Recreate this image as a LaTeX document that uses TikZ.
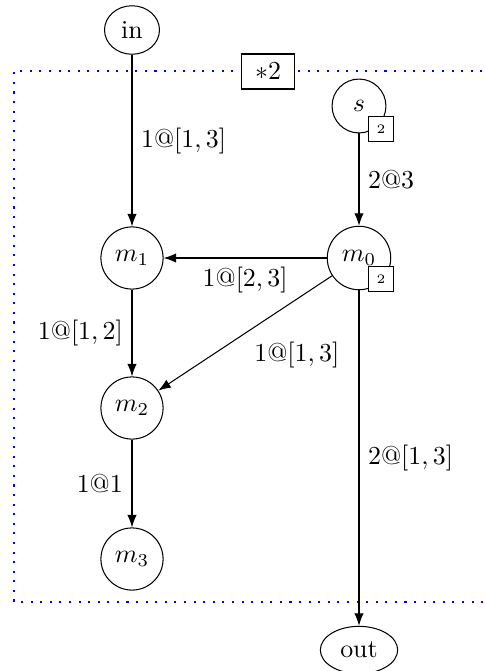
\documentclass[tikz,border=0pt]{standalone}
\usetikzlibrary{arrows.meta,shapes.geometric}
\begin{document}
\begin{tikzpicture}[x=0.386pt,y=-0.386pt,
  state/.style={circle,draw,minimum size=24pt,inner sep=1pt},
  term/.style={ellipse,draw},
  tag/.style={draw,fill=white,font=\tiny,minimum size=9.5pt,inner sep=0pt},
  edge/.style={-{Latex}},
  frame/.style={blue,line width=0.8pt,dash pattern=on 0.8pt off 2.9pt},
  repbox/.style={draw,fill=white,minimum width=20.5pt,minimum height=13.5pt}
]
\useasboundingbox (0,0) rectangle (484,671);
\clip (0,0) rectangle (484,671);
\draw[frame] (492,71) -- (14,71) -- (14,602) -- (492,602);
\node[repbox] (rep) at (268,71.5) {$*2$};

\node[term] (in) at (132,30) {in};
\node[state,minimum size=20.8pt] (s) at (359,106) {$s$};
\node[state,minimum size=24.5pt] (m0) at (359,258) {$m_0$};
\node[state] (m1) at (132,258) {$m_1$};
\node[state] (m2) at (132,408) {$m_2$};
\node[state] (m3) at (132,559) {$m_3$};
\node[term] (out) at (359,650) {out};
\node[tag] (ts) at (381,129) {2};
\node[tag] (tm) at (381,279) {2};

\draw[edge] (in) -- node[right] {$1@[1,3]$} (m1);
\draw[edge] (s) -- node[right] {$2@3$} (m0);
\draw[edge] (m0) -- node[below] {$1@[2,3]$} (m1);
\draw[edge] (m0) -- node[below right] {$1@[1,3]$} (m2);
\draw[edge] (m1) -- node[left] {$1@[1,2]$} (m2);
\draw[edge] (m2) -- node[left] {$1@1$} (m3);
\draw[edge] (m0) -- node[right] {$2@[1,3]$} (out);
\end{tikzpicture}
\end{document}
